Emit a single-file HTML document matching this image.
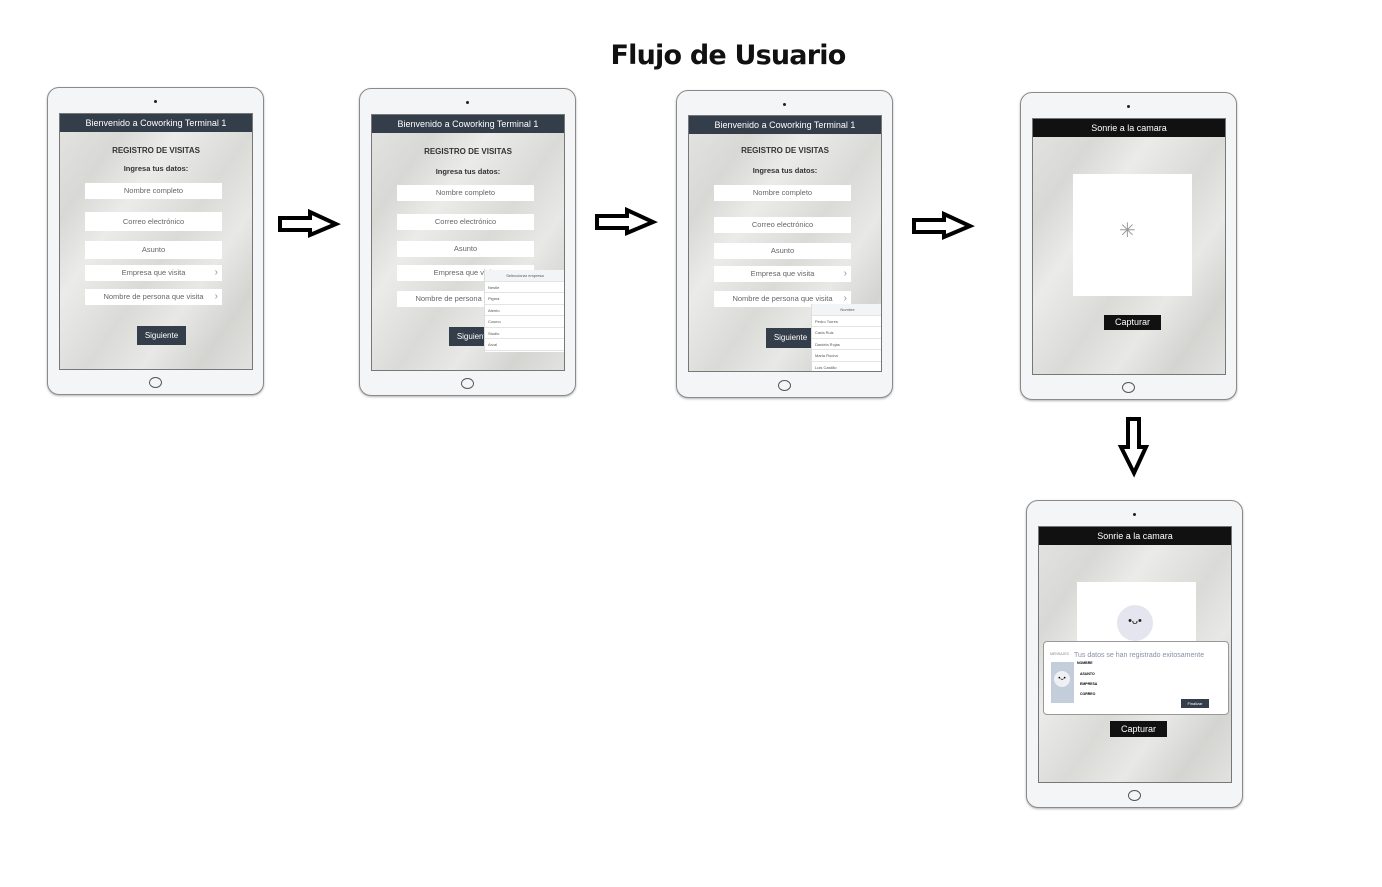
<!DOCTYPE html>
<html><head><meta charset="utf-8">
<style>
*{margin:0;padding:0;box-sizing:border-box}
body{width:1382px;height:887px;background:#fff;position:relative;overflow:hidden;font-family:"Liberation Sans",sans-serif}
.a{position:absolute}
.tab{position:absolute;width:217px;height:308px;border:1.5px solid #8a8a8a;border-radius:12px;background:#f4f5f7;box-shadow:0 1px 2px rgba(0,0,0,.3)}
.tab .cam{position:absolute;left:106px;top:12px;width:3px;height:3px;border-radius:50%;background:#222}
.tab .home{position:absolute;left:101px;bottom:6px;width:13px;height:11px;border:1px solid #555;border-radius:50%}
.scr{position:absolute;left:11px;top:25px;width:194px;height:257px;border:1px solid #777;overflow:hidden;
background:linear-gradient(125deg,#e4e4e2 0%,#d8d8d5 20%,#ebebea 35%,#dadad7 55%,#e8e8e6 70%,#d4d4d1 85%,#e2e2e0 100%)}
.hd{position:absolute;left:0;top:0;width:100%;height:18px;background:#343d4a;color:#fff;font-size:9px;text-align:center;line-height:18px}
.t1{position:absolute;width:100%;text-align:center;font-size:8px;font-weight:bold;color:#333}
.f{position:absolute;left:25px;width:137px;height:16px;background:#fff;color:#666;font-size:7.5px;text-align:center;line-height:16px}
.f b{position:absolute;right:4px;top:0;font-weight:normal;color:#8890a8;font-size:10px}
.btn{position:absolute;background:#343d4a;color:#fff;font-size:8px;text-align:center;line-height:19px}
.dd{position:absolute;background:#fff;border-left:1px solid #ddd;font-size:4px;color:#555}
.dd div{height:11.5px;line-height:11.5px;border-bottom:1px solid #e4e4e4;padding-left:3px;position:relative}
.dd div:first-child{background:#f3f4f6;text-align:center;padding:0}
</style></head><body>
<div class="a" style="left:0;width:1456px;top:40px;text-align:center;font-size:27px;font-weight:bold;color:#111;font-family:'DejaVu Sans',sans-serif;letter-spacing:-0.8px">Flujo de Usuario</div>

<!-- T1 -->
<div class="tab" style="left:47px;top:87px"><div class="cam"></div><div class="home"></div>
<div class="scr">
<div class="hd">Bienvenido a Coworking Terminal 1</div>
<div class="t1" style="top:32px">REGISTRO DE VISITAS</div>
<div class="t1" style="top:50px;font-size:7.5px">Ingresa tus datos:</div>
<div class="f" style="top:69px">Nombre completo</div>
<div class="f" style="top:98px;height:19px;line-height:19px">Correo electrónico</div>
<div class="f" style="top:127px;height:18px;line-height:18px">Asunto</div>
<div class="f" style="top:151px">Empresa que visita<b>›</b></div>
<div class="f" style="top:175px">Nombre de persona que visita<b>›</b></div>
<div class="btn" style="left:77px;top:212px;width:49px;height:19px">Siguiente</div>
</div></div>

<!-- T2 -->
<div class="tab" style="left:359px;top:88px"><div class="cam"></div><div class="home"></div>
<div class="scr">
<div class="hd">Bienvenido a Coworking Terminal 1</div>
<div class="t1" style="top:32px">REGISTRO DE VISITAS</div>
<div class="t1" style="top:52px;font-size:7.5px">Ingresa tus datos:</div>
<div class="f" style="top:70px">Nombre completo</div>
<div class="f" style="top:99px">Correo electrónico</div>
<div class="f" style="top:126px">Asunto</div>
<div class="f" style="top:150px">Empresa que visita<b>›</b></div>
<div class="f" style="top:176px">Nombre de persona que visita<b>›</b></div>
<div class="btn" style="left:77px;top:212px;width:49px;height:19px">Siguiente</div>
<div class="dd" style="left:112px;top:155px;width:81px;height:82px">
<div>Seleccionar empresa</div><div>Nestle</div><div>Pigma</div><div>Atento</div><div>Cosmo</div><div>Studio</div><div>Arcal</div></div>
</div></div>

<!-- T3 -->
<div class="tab" style="left:676px;top:90px"><div class="cam"></div><div class="home"></div>
<div class="scr" style="top:24px">
<div class="hd">Bienvenido a Coworking Terminal 1</div>
<div class="t1" style="top:30px">REGISTRO DE VISITAS</div>
<div class="t1" style="top:50px;font-size:7.5px">Ingresa tus datos:</div>
<div class="f" style="top:69px">Nombre completo</div>
<div class="f" style="top:101px">Correo electrónico</div>
<div class="f" style="top:127px">Asunto</div>
<div class="f" style="top:150px">Empresa que visita<b>›</b></div>
<div class="f" style="top:175px">Nombre de persona que visita<b>›</b></div>
<div class="btn" style="left:77px;top:212px;width:49px;height:20px">Siguiente</div>
<div class="dd" style="left:122px;top:188px;width:72px;height:70px">
<div>Nombre</div><div>Pedro Torres</div><div>Carla Ruiz</div><div>Daniela Rojas</div><div>Maria Rocha</div><div>Luis Castillo</div></div>
</div></div>

<!-- T4 -->
<div class="tab" style="left:1020px;top:92px"><div class="cam"></div><div class="home"></div>
<div class="scr">
<div class="hd" style="background:#111">Sonrie a la camara</div>
<div class="a" style="left:40px;top:55px;width:119px;height:122px;background:#fff"></div>
<div class="a" style="left:86px;top:99px;font-size:20px;color:#999">✳</div>
<div class="btn" style="left:71px;top:196px;width:57px;height:15px;line-height:15px;background:#111;font-size:9px">Capturar</div>
</div></div>

<!-- T5 -->
<div class="tab" style="left:1026px;top:500px"><div class="cam"></div><div class="home"></div>
<div class="scr">
<div class="hd" style="background:#111">Sonrie a la camara</div>
<div class="a" style="left:38px;top:55px;width:119px;height:70px;background:#fff"></div>
<div class="a" style="left:78px;top:78px;width:36px;height:36px;border-radius:50%;background:#e3e6ee;text-align:center;line-height:32px;font-size:11px;color:#222">•ᴗ•</div>
<div class="a" style="left:4px;top:114px;width:186px;height:74px;background:#fff;border:1px solid #999;border-radius:4px">
<div class="a" style="left:6px;top:10px;font-size:3.5px;color:#888">MENSAJES</div>
<div class="a" style="left:30px;top:10px;font-size:7px;color:#8890a8">Tus datos se han registrado exitosamente</div>
<div class="a" style="left:7px;top:20px;width:23px;height:41px;background:#c4cedb"><div class="a" style="left:3px;top:9px;width:16px;height:16px;border-radius:50%;background:#eef0f4;font-size:6px;text-align:center;line-height:16px">•ᴗ•</div></div>
<div class="a" style="left:33px;top:19px;font-size:3.5px;font-weight:bold">NOMBRE</div>
<div class="a" style="left:36px;top:30px;font-size:3.5px;font-weight:bold">ASUNTO</div>
<div class="a" style="left:36px;top:40px;font-size:3.5px;font-weight:bold">EMPRESA</div>
<div class="a" style="left:36px;top:50px;font-size:3.5px;font-weight:bold">CORREO</div>
<div class="btn" style="left:137px;top:57px;width:28px;height:9px;line-height:9px;font-size:4px">Finalizar</div>
</div>
<div class="btn" style="left:71px;top:194px;width:57px;height:16px;line-height:16px;background:#111;font-size:9px">Capturar</div>
</div></div>

<!-- arrows -->
<svg class="a" style="left:0;top:0" width="1382" height="887">
<g fill="#fff" stroke="#000" stroke-width="4" stroke-linejoin="miter">
<path d="M280 218 H310 V212 L336 224 L310 235 V230 H280 Z"/>
<path d="M597 216 H627 V210 L653 222 L627 233 V228 H597 Z"/>
<path d="M914 220 H944 V214 L970 226 L944 237 V232 H914 Z"/>
<path d="M1128 419 V447 H1121 L1134 473 L1146 447 H1139 V419 Z"/>
</g></svg>
</body></html>
